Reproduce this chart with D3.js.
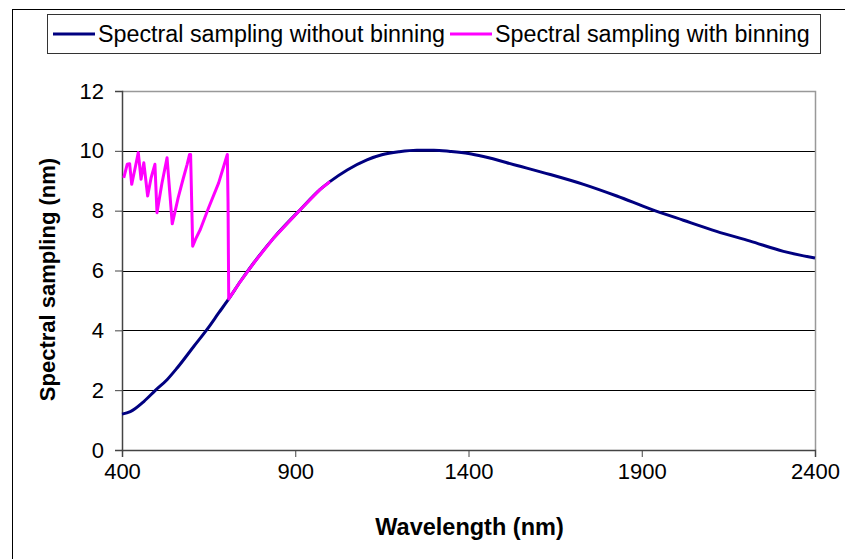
<!DOCTYPE html>
<html><head><meta charset="utf-8">
<script src="https://cdn.jsdelivr.net/npm/d3@7"></script>
<style>body{margin:0;background:#fff}svg{display:block;font-family:"Liberation Sans",Arial,sans-serif}</style>
</head><body>
<svg id="c" width="845" height="559"></svg>
<script>
const seriesNames = ["Spectral sampling without binning", "Spectral sampling with binning"];
const seriesColors = ["#000080", "#FF00FF"];
const xTicks = [400, 900, 1400, 1900, 2400];
const yTicks = [0, 2, 4, 6, 8, 10, 12];
// [wavelength nm, spectral sampling nm]
const withoutBinning = [[400,1.2],[424,1.28],[463,1.62],[497,2.0],[530,2.35],[559,2.74],[607,3.46],[646,4.04],[679,4.58],[708,5.05],[742,5.64],[780,6.25],[838,7.09],[915,8.04],[972,8.71],[1000,8.97],[1050,9.36],[1107,9.70],[1150,9.87],[1200,9.97],[1251,10.02],[1300,10.02],[1347,9.98],[1400,9.91],[1443,9.81],[1540,9.51],[1636,9.21],[1732,8.88],[1828,8.49],[1924,8.06],[2020,7.68],[2116,7.31],[2213,6.98],[2309,6.64],[2400,6.42]];
const withBinning = [[405,9.10],[415,9.55],[422,9.57],[428,8.88],[434,9.21],[441,9.6],[447,9.94],[455,9.05],[463,9.6],[474,8.49],[484,9.1],[495,9.55],[501,7.93],[515,8.9],[530,9.77],[545,7.56],[549,7.76],[562,8.43],[575,9.0],[588,9.55],[595,9.88],[598,9.88],[604,6.81],[612,7.04],[626,7.37],[650,8.1],[679,8.93],[701,9.77],[704,9.88],[706,8.3],[708,5.05],[742,5.64],[780,6.25],[838,7.09],[915,8.04],[972,8.71],[1000,8.97]];

const svg = d3.select("#c");
const L = 122, R = 815, T = 91, B = 450;
const x = d3.scaleLinear().domain([400, 2400]).range([L, R]);
const y = d3.scaleLinear().domain([0, 12]).range([B, T]);

// outer frame
svg.append("rect").attr("x",12.5).attr("y",9.5).attr("width",900).attr("height",600)
  .attr("fill","none").attr("stroke","#000").attr("stroke-width",1);

// gridlines
svg.append("g").selectAll("line").data(yTicks.filter(d=>d>0 && d<12)).join("line")
  .attr("x1",L).attr("x2",R).attr("y1",d=>Math.round(y(d))+0.5).attr("y2",d=>Math.round(y(d))+0.5)
  .attr("stroke","#000").attr("stroke-width",1);

// plot border top/right
svg.append("path").attr("d",`M${L},${Math.round(T)+0.5}H${R+0.5}V${B}`)
  .attr("fill","none").attr("stroke","#999").attr("stroke-width",1.5);

// axes
const xAxis = d3.axisBottom(x).tickValues(xTicks).tickSize(7).tickPadding(6).tickFormat(d3.format("d"));
const gx = svg.append("g").attr("transform",`translate(0,${B})`).call(xAxis);
gx.select(".domain").attr("stroke","#444").attr("stroke-width",1.5);
gx.selectAll(".tick line").attr("stroke","#444");
gx.selectAll("text").attr("font-size",22).attr("fill","#000").attr("font-family","Liberation Sans, Arial");

const yAxis = d3.axisLeft(y).tickValues(yTicks).tickSize(7).tickPadding(11);
const gy = svg.append("g").attr("transform",`translate(${L},0)`).call(yAxis);
gy.select(".domain").attr("stroke","#444").attr("stroke-width",1.5);
gy.selectAll(".tick line").attr("stroke","#444");
gy.selectAll("text").attr("font-size",22).attr("fill","#000").attr("font-family","Liberation Sans, Arial");

// lines
const smooth = d3.line().x(d=>x(d[0])).y(d=>y(d[1])).curve(d3.curveMonotoneX);
const line = d3.line().x(d=>x(d[0])).y(d=>y(d[1]));
svg.append("path").datum(withoutBinning).attr("d",smooth).attr("fill","none")
  .attr("stroke",seriesColors[0]).attr("stroke-width",3).attr("stroke-linejoin","round");
svg.append("path").datum(withBinning).attr("d",line).attr("fill","none")
  .attr("stroke",seriesColors[1]).attr("stroke-width",3).attr("stroke-linejoin","round");

// axis titles
svg.append("text").attr("x",(L+R)/2+1).attr("y",535).attr("text-anchor","middle")
  .attr("font-size",23.5).attr("font-weight","bold").text("Wavelength (nm)");
svg.append("text").attr("transform",`translate(55,${(T+B)/2+9}) rotate(-90)`).attr("text-anchor","middle")
  .attr("font-size",22).attr("font-weight","bold").text("Spectral sampling (nm)");

// legend
const lg = svg.append("g");
lg.append("rect").attr("x",47.5).attr("y",14.5).attr("width",773).attr("height",39)
  .attr("fill","#fff").attr("stroke","#333").attr("stroke-width",1);
const items = [{x:53},{x:450}];
seriesNames.forEach((n,i)=>{
  const g = lg.append("g").attr("transform",`translate(${items[i].x},34)`);
  g.append("line").attr("x1",0).attr("x2",42).attr("stroke",seriesColors[i]).attr("stroke-width",3);
  g.append("text").attr("x",45).attr("y",8).attr("font-size",23.3).text(n);
});
</script>
</body></html>
